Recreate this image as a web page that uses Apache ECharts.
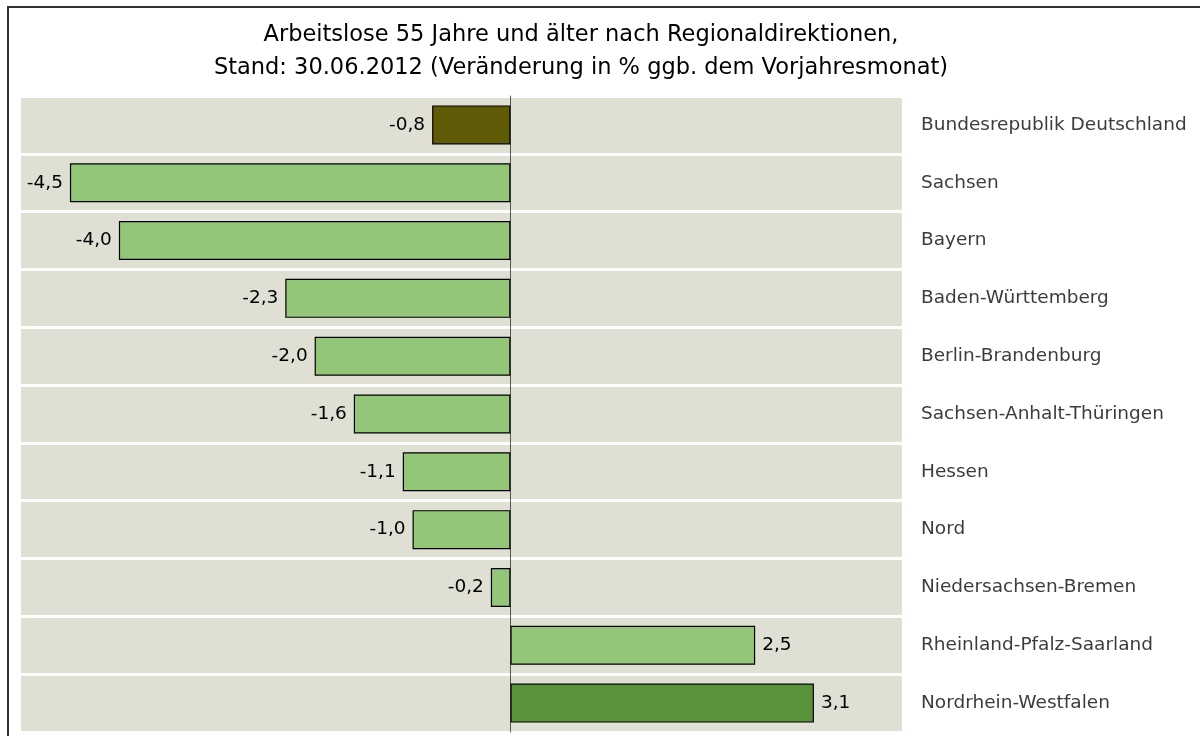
<!DOCTYPE html>
<html>
<head>
<meta charset="utf-8">
<script src="https://cdn.jsdelivr.net/npm/echarts@6/dist/echarts.min.js"></script>
<style>
html,body{margin:0;padding:0;background:#fff;overflow:hidden;}
#wrap{position:relative;width:1200px;height:736px;overflow:hidden;}
#chart{position:absolute;left:0;top:0;width:1200px;height:736px;}
#frame{position:absolute;left:7px;top:6px;width:1400px;height:900px;border:2px solid #333;pointer-events:none;}
</style>
</head>
<body>
<div id="wrap">
<div id="chart"></div>
<div id="frame"></div>
</div>
<script>
const titleLine1 = 'Arbeitslose 55 Jahre und älter nach Regionaldirektionen,';
const titleLine2 = 'Stand: 30.06.2012 (Veränderung in % ggb. dem Vorjahresmonat)';
const categories = [
  'Bundesrepublik Deutschland',
  'Sachsen',
  'Bayern',
  'Baden-Württemberg',
  'Berlin-Brandenburg',
  'Sachsen-Anhalt-Thüringen',
  'Hessen',
  'Nord',
  'Niedersachsen-Bremen',
  'Rheinland-Pfalz-Saarland',
  'Nordrhein-Westfalen'
];
const values = [-0.8, -4.5, -4.0, -2.3, -2.0, -1.6, -1.1, -1.0, -0.2, 2.5, 3.1];
const totalCategory = 'Bundesrepublik Deutschland';
const highlightCategory = 'Nordrhein-Westfalen';

const FONT = 'DejaVu Sans';
const chart = echarts.init(document.getElementById('chart'));

const data = values.map(function (v, i) {
  let color = '#94c67a';
  if (categories[i] === totalCategory) color = '#5e5a06';
  else if (categories[i] === highlightCategory) color = '#5b923c';
  return {
    value: v,
    itemStyle: { color: color },
    label: { position: v < 0 ? 'left' : 'right' }
  };
});

chart.setOption({
  animation: false,
  backgroundColor: '#ffffff',
  title: [
    { text: titleLine1, left: 576, top: 19, textAlign: 'center',
      textStyle: { fontFamily: FONT, fontSize: 22.5, fontWeight: 'normal', color: '#000' } },
    { text: titleLine2, left: 576, top: 52, textAlign: 'center',
      textStyle: { fontFamily: FONT, fontSize: 22.5, fontWeight: 'normal', color: '#000' } }
  ],
  grid: { left: 21, right: 298, top: 96, bottom: 4, containLabel: false },
  xAxis: { type: 'value', min: -5, max: 4, show: false },
  yAxis: [
    {
      type: 'category', data: categories, inverse: true, position: 'left',
      axisLine: { show: true, onZero: true, lineStyle: { color: '#555', width: 1 } },
      axisTick: { show: false },
      axisLabel: { show: false },
      splitArea: { show: true, areaStyle: { color: ['#dfe0d3', '#dfe0d3'] } },
      splitLine: { show: true, lineStyle: { color: '#ffffff', width: 3 } }
    },
    {
      type: 'category', data: categories, inverse: true, position: 'right',
      axisLine: { show: false, onZero: false },
      axisTick: { show: false },
      axisLabel: { show: true, margin: 19, align: 'left', fontFamily: FONT, fontSize: 18.5, color: '#3c3c3c' },
      splitArea: { show: false },
      splitLine: { show: false }
    }
  ],
  series: [{
    type: 'bar',
    yAxisIndex: 0,
    data: data,
    barWidth: 39,
    itemStyle: { borderColor: '#000', borderWidth: 1.2 },
    label: {
      show: true, distance: 7, fontFamily: FONT, fontSize: 18.5, color: '#000',
      formatter: function (p) { return p.value.toFixed(1).replace('.', ','); }
    },
    z: 5
  }]
});
</script>
</body>
</html>
